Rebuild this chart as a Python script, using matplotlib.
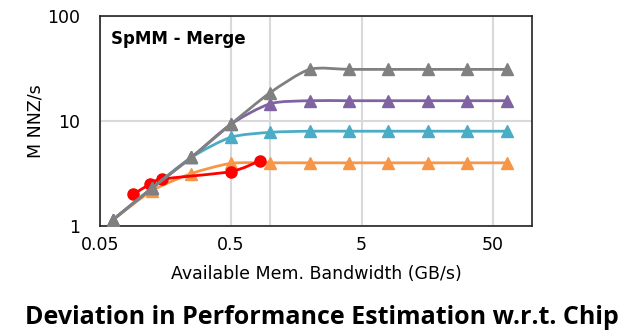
import numpy as np
import matplotlib
matplotlib.use("Agg")
import matplotlib.pyplot as plt
from matplotlib.path import Path
from matplotlib.patches import PathPatch

# Data
bandwidth = [0.0625, 0.125, 0.25, 0.5, 1, 2, 4, 8, 16, 32, 64]
series_gray = [1.14, 2.3, 4.5, 9.3, 18.6, 31, 31, 31, 31, 31, 31]
series_purple = [1.14, 2.3, 4.5, 9.3, 14.6, 15.6, 15.6, 15.6, 15.6, 15.6, 15.6]
series_cyan = [1.14, 2.3, 4.5, 7.0, 7.8, 8.0, 8.0, 8.0, 8.0, 8.0, 8.0]
series_orange = [1.14, 2.17, 3.16, 3.95, 4.0, 4.0, 4.0, 4.0, 4.0, 4.0, 4.0]

chip_bandwidth = [0.09, 0.12, 0.15, 0.5, 0.84]
chip_perf = [2.0, 2.5, 2.8, 3.3, 4.2]

x_ticks = [0.05, 0.5, 1, 5, 50]
x_tick_labels = ["0.05", "0.5", "", "5", "50"]
y_ticks = [1, 10, 100]
y_tick_labels = ["1", "10", "100"]


def smooth_line(ax, xs, ys, color, lw=2.0, zorder=2, tension=1 / 8):
    """Excel-like smoothed line: Catmull-Rom Bezier in log-log space."""
    pts = np.column_stack([np.log10(xs), np.log10(ys)])
    n = len(pts)
    verts = [pts[0]]
    codes = [Path.MOVETO]
    for i in range(n - 1):
        p0 = pts[i - 1] if i > 0 else pts[i]
        p3 = pts[i + 2] if i + 2 < n else pts[i + 1]
        c1 = pts[i] + (pts[i + 1] - p0) * tension
        c2 = pts[i + 1] - (p3 - pts[i]) * tension
        verts += [c1, c2, pts[i + 1]]
        codes += [Path.CURVE4] * 3
    verts = 10 ** np.array(verts)
    patch = PathPatch(Path(verts, codes), fill=False, edgecolor=color,
                      lw=lw, zorder=zorder, capstyle="round")
    ax.add_patch(patch)


fig = plt.figure(figsize=(6.28, 3.32), dpi=100)
ax = fig.add_axes([0.159, 0.319, 0.688, 0.633])

ax.set_xscale("log")
ax.set_yscale("log")
ax.set_xlim(0.05, 100)
ax.set_ylim(1, 100)

layers = [
    (series_orange, "#F79646", 3),
    (series_cyan, "#4BACC6", 5),
    (series_purple, "#8064A2", 6),
    (series_gray, "#808080", 7),
]
for values, color, z in layers:
    smooth_line(ax, bandwidth, values, color, zorder=z)
    ax.plot(bandwidth, values, linestyle="none", marker="^", markersize=9,
            color=color, zorder=z)

smooth_line(ax, chip_bandwidth, chip_perf, "#FF0000", zorder=4)
ax.plot(chip_bandwidth, chip_perf, linestyle="none", marker="o",
        markersize=8, color="#FF0000", zorder=4)

ax.set_xticks(x_ticks)
ax.set_xticklabels(x_tick_labels)
ax.set_yticks(y_ticks)
ax.set_yticklabels(y_tick_labels)
ax.minorticks_off()
ax.tick_params(axis="both", length=0, labelsize=12.5)
ax.tick_params(axis="y", pad=14)
ax.tick_params(axis="x", pad=7)
ax.grid(True, color="#d9d9d9", lw=1.5)
ax.set_axisbelow(True)

for spine in ax.spines.values():
    spine.set_color("#222222")
    spine.set_linewidth(1.2)

ax.set_xlabel("Available Mem. Bandwidth (GB/s)", fontsize=12.5, labelpad=8)
ax.set_ylabel("M NNZ/s", fontsize=12.5, labelpad=2)

ax.text(0.025, 0.935, "SpMM - Merge", transform=ax.transAxes, fontsize=12,
        fontweight="bold", va="top", ha="left")

fig.text(0.513, 0.045, "Deviation in Performance Estimation w.r.t. Chip",
         family="Open Sans", fontweight="bold", fontsize=18,
         ha="center", va="center")

fig.savefig("out.png", dpi=100)
